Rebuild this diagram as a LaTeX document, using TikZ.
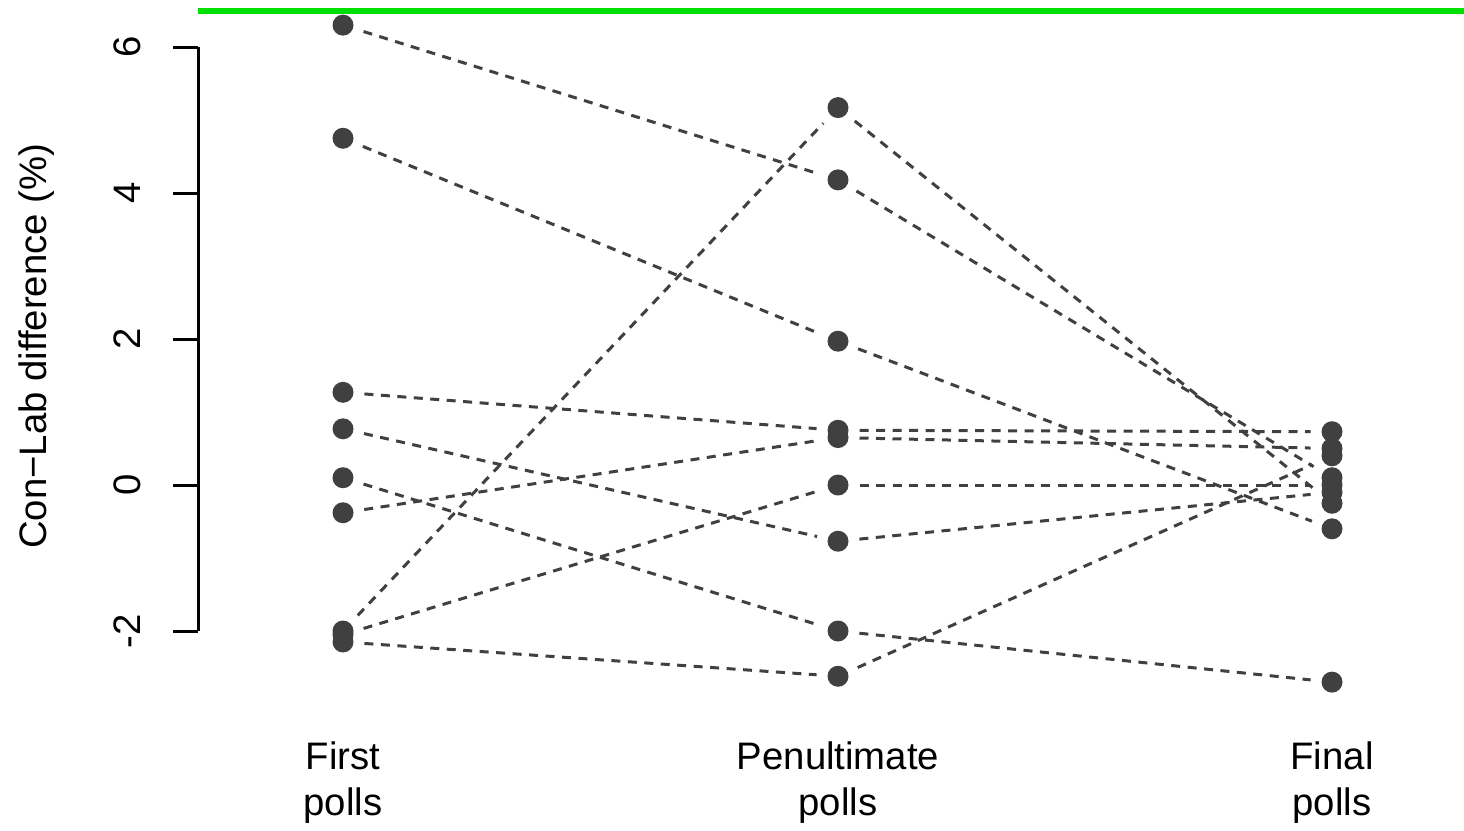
\documentclass[tikz,border=0pt]{standalone}
\usepackage{fontspec}
\setmainfont{Liberation Sans}
\definecolor{dotgray}{HTML}{404040}
\definecolor{refgreen}{HTML}{00E000}

\begin{document}
\begin{tikzpicture}[
    dot/.style={circle, fill=dotgray, inner sep=0pt, outer sep=0.11cm, minimum size=0.21cm},
    poll/.style={draw=dotgray, line width=0.03cm, dash pattern=on 0.09cm off 0.075cm},
    lbl/.style={font=\fontsize{10.9}{13.1}\selectfont, align=center}
]
\useasboundingbox (0,0) rectangle (14.64,8.30);
\draw[refgreen, line width=0.06cm] (1.98,8.19) -- (14.64,8.19);
% value v sits at 3.45cm + 0.73cm * v
\begin{scope}[yshift=3.45cm, y=0.73cm]
\draw[line width=0.03cm] (1.98,-2) -- (1.98,6);
\foreach \v in {-2,0,...,6}{
  \draw[line width=0.03cm] (1.73,\v) -- (1.98,\v);
  \node[lbl, rotate=90] (tick\v) at (1.27,\v) {\v};
}
\node[lbl, rotate=90] (ylabel) at (0.37,1.9) {Con−Lab difference (\%)};
% first / penultimate / final poll of each pollster
\foreach \a/\b/\c [count=\i] in {6.3/4.18/0.1, 4.75/1.97/-0.6, 1.27/0.75/0.73, 0.77/-0.77/-0.1, 0.1/-2.0/-2.7, -0.38/0.65/0.5, -2.0/5.17/-0.25, -2.05/0.0/0.0, -2.15/-2.62/0.4}{
  \node[dot] (first\i) at (3.43,\a) {};
  \node[dot] (penult\i) at (8.38,\b) {};
  \node[dot] (final\i) at (13.32,\c) {};
  \draw[poll] (first\i) -- (penult\i);
  \draw[poll] (penult\i) -- (final\i);
}
\end{scope}
\node[lbl] (firstlab) at (3.43,0.47) {First\\polls};
\node[lbl] (penultlab) at (8.38,0.47) {Penultimate\\polls};
\node[lbl] (finallab) at (13.32,0.47) {Final\\polls};
\end{tikzpicture}
\end{document}
